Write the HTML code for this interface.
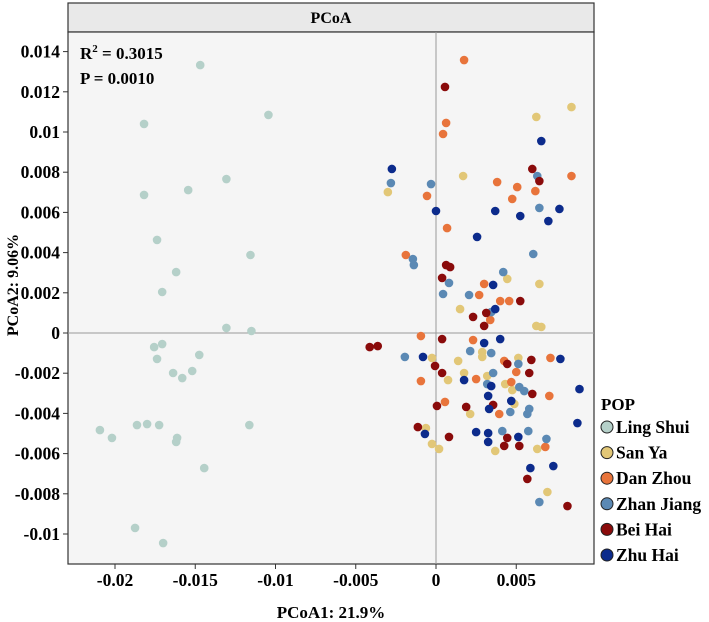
<!DOCTYPE html>
<html><head><meta charset="utf-8"><style>
html,body{margin:0;padding:0;background:#fff;}
svg{display:block;font-family:"Liberation Serif",serif;font-weight:bold;}
</style></head><body>
<svg id="chart" width="709" height="622"></svg>
<script>
// values in units of 1e-3
const groups = ["Ling Shui","San Ya","Dan Zhou","Zhan Jiang","Bei Hai","Zhu Hai"];
const colors = ["#b5d0c9","#e2c777","#e8743b","#5b89b4","#8a0b0b","#0c2b8c"];
const lingShuiX = [-14.69,-10.44,-18.19,-13.06,-15.44,-18.19,-17.38,-11.56,-16.19,-17.06,-13.06,-11.5,-17.56,-17.06,-17.38,-14.75,-16.38,-15.81,-15.19,-20.94,-20.19,-18.63,-18.0,-17.25,-11.63,-16.13,-16.19,-14.44,-18.75,-17.0];
const lingShuiY = [13.33,10.85,10.40,7.66,7.11,6.87,4.63,3.88,3.03,2.04,0.25,0.10,-0.70,-0.55,-1.29,-1.09,-1.99,-2.24,-1.89,-4.83,-5.22,-4.58,-4.53,-4.58,-4.58,-5.22,-5.42,-6.72,-9.70,-10.45];
const sanYaX = [6.25,8.44,1.69,-3.0,4.44,6.44,1.5,6.25,6.56,2.88,2.88,-0.25,1.38,0.75,1.75,3.19,5.13,4.31,4.75,2.13,4.88,-0.63,-0.25,0.19,3.69,6.31,6.94];
const sanYaY = [10.75,11.24,7.81,7.01,2.69,2.44,1.19,0.35,0.30,-0.95,-1.19,-1.24,-1.39,-2.34,-1.99,-2.14,-1.24,-2.54,-2.84,-4.03,-3.53,-4.73,-5.52,-5.77,-5.87,-5.77,-7.91];
const danZhouX = [1.75,0.63,0.44,8.44,3.81,5.06,6.19,-0.56,4.75,0.69,-1.88,3.0,2.69,4.0,4.56,3.38,-0.94,2.31,7.13,5.0,2.5,-0.94,4.25,4.69,7.06,0.56,3.94,6.81];
const danZhouY = [13.58,10.45,9.90,7.81,7.51,7.26,7.06,6.82,6.67,5.22,3.88,2.44,1.89,1.59,1.59,0.65,-0.15,-0.35,-1.24,-1.94,-2.29,-2.39,-1.39,-2.44,-3.13,-3.43,-4.03,-5.67];
const zhanJiangX = [6.31,-2.81,-0.31,6.44,-1.44,-1.38,6.06,4.19,0.81,0.44,2.06,3.44,2.13,3.44,-1.94,5.13,3.56,3.19,5.19,5.5,4.63,5.81,5.69,4.13,5.75,6.88,6.44];
const zhanJiangY = [7.81,7.46,7.41,6.22,3.68,3.38,3.93,3.03,2.49,1.94,1.89,1.04,-0.90,-1.0,-1.19,-1.54,-1.99,-2.54,-2.69,-2.89,-3.93,-3.78,-4.03,-4.88,-4.88,-5.27,-8.41];
const beiHaiX = [0.56,6.0,6.44,0.63,0.88,0.38,5.25,2.31,3.13,3.0,-4.13,-3.63,0.38,-0.06,0.38,4.44,5.94,5.81,6.0,0.06,1.88,3.56,-1.13,0.81,4.44,4.25,5.19,5.69,8.19];
const beiHaiY = [12.24,8.16,7.56,3.38,3.28,2.74,1.59,0.80,1.0,0.35,-0.70,-0.65,-0.30,-1.64,-1.99,-1.54,-1.34,-1.99,-3.03,-3.63,-3.68,-3.58,-4.68,-5.17,-5.22,-5.62,-5.62,-7.26,-8.61];
const zhuHaiX = [6.56,-2.75,0.0,3.69,5.25,7.0,7.69,2.56,3.56,3.69,3.0,4.0,-0.81,7.75,1.75,3.44,8.94,3.25,3.31,4.69,-0.69,2.5,3.25,3.25,5.13,8.81,5.88,7.31];
const zhuHaiY = [9.55,8.16,6.07,6.07,5.82,5.57,6.17,4.78,2.39,1.19,-0.50,-0.30,-1.19,-1.29,-2.34,-2.64,-2.79,-3.13,-3.78,-3.38,-5.02,-4.93,-4.98,-5.42,-5.17,-4.48,-6.72,-6.62];
const xTicks = [-20,-15,-10,-5,0,5];
const xTickLabels = ["-0.02","-0.015","-0.01","-0.005","0","0.005"];
const yTicks = [14,12,10,8,6,4,2,0,-2,-4,-6,-8,-10];
const yTickLabels = ["0.014","0.012","0.01","0.008","0.006","0.004","0.002","0","-0.002","-0.004","-0.006","-0.008","-0.01"];

const L=68,R=594,T=32,B=564;
const sx = v => 436 + v*16.05;
const sy = v => 333 - v*20.1;
const NS="http://www.w3.org/2000/svg";
const svg=document.getElementById('chart');
function mk(tag,attrs,parent){const e=document.createElementNS(NS,tag);for(const k in attrs)e.setAttribute(k,attrs[k]);(parent||svg).appendChild(e);return e;}

let e;
e=mk('rect',{x:L,y:3,width:R-L,height:T-3,fill:'#e9e9e9',stroke:'#333','stroke-width':1.2});


e=mk('text',{x:(L+R)/2,y:23,'text-anchor':'middle','font-size':16});e.textContent='PCoA';


e=mk('rect',{x:L,y:T,width:R-L,height:B-T,fill:'#f5f5f5',stroke:'#333','stroke-width':1.2});


e=mk('line',{x1:sx(0),x2:sx(0),y1:T,y2:B,stroke:'#999','stroke-width':1});


e=mk('line',{x1:L,x2:R,y1:sy(0),y2:sy(0),stroke:'#999','stroke-width':1});



xTicks.forEach((t,i)=>{
  const l=mk('line',{x1:sx(t),x2:sx(t),y1:B,y2:B+5,stroke:'#333'});
  
  
  const tx=mk('text',{x:sx(t),y:B+22,'text-anchor':'middle','font-size':17.5});tx.textContent=xTickLabels[i];
  
  
});
yTicks.forEach((t,i)=>{
  const l=mk('line',{x1:L-5,x2:L,y1:sy(t),y2:sy(t),stroke:'#333'});
  
  
  const tx=mk('text',{x:L-8,y:sy(t)+6,'text-anchor':'end','font-size':17.5});tx.textContent=yTickLabels[i];
  
  
});
e=mk('text',{x:331,y:618,'text-anchor':'middle','font-size':17});e.textContent='PCoA1: 21.9%';


e=mk('text',{x:0,y:0,'text-anchor':'middle','font-size':16,transform:'translate(18,285) rotate(-90)'});e.textContent='PCoA2: 9.06%';



e=mk('text',{x:80,y:59,'font-size':17});
e.innerHTML='R<tspan dy="-7" font-size="11">2</tspan><tspan dy="7"> = 0.3015</tspan>';


e=mk('text',{x:80,y:84,'font-size':17});e.textContent='P = 0.0010';



const seriesX=[lingShuiX,sanYaX,danZhouX,zhanJiangX,beiHaiX,zhuHaiX];
const seriesY=[lingShuiY,sanYaY,danZhouY,zhanJiangY,beiHaiY,zhuHaiY];
seriesX.forEach((xs,g)=>{
  xs.forEach((xv,i)=>{
    const c=mk('circle',{cx:sx(xv),cy:sy(seriesY[g][i]),r:4.3,fill:colors[g]});
    
    
  });
});

e=mk('text',{x:601,y:410,'font-size':17});e.textContent='POP';


groups.forEach((g,i)=>{
  const y=427+25.6*i;
  const c=mk('circle',{cx:607,cy:y,r:6,fill:colors[i],stroke:'#222','stroke-width':1});
  
  
  const t=mk('text',{x:616,y:y+6,'font-size':17.5});t.textContent=g;
  
  
});
</script>
</body></html>
